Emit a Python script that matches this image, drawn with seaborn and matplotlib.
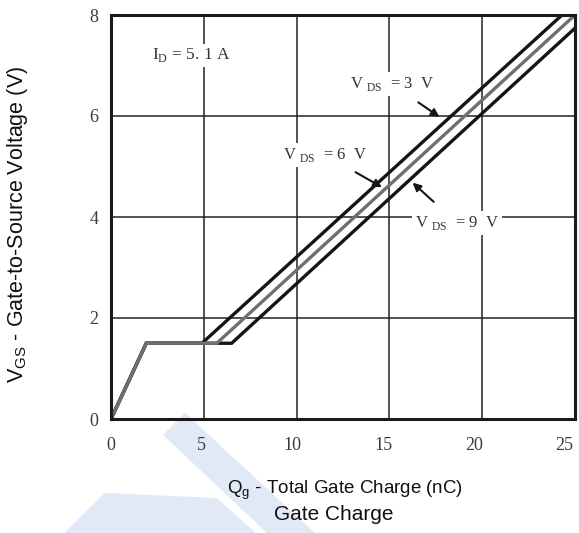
import matplotlib
matplotlib.use("Agg")
import matplotlib.pyplot as plt
import matplotlib.transforms as mtransforms
from matplotlib.patches import Polygon
import seaborn as sns
import pandas as pd

# ---- data ----
qg_vds3 = [0.0, 1.9, 4.9, 24.3]
vgs_vds3 = [0.0, 1.5, 1.5, 8.0]
qg_vds6 = [0.0, 1.9, 5.7, 25.0]
vgs_vds6 = [0.0, 1.5, 1.5, 8.0]
qg_vds9 = [0.0, 1.9, 6.5, 25.0]
vgs_vds9 = [0.0, 1.5, 1.5, 7.74]
x_ticks = [0, 5, 10, 15, 20, 25]
y_ticks = [0, 2, 4, 6, 8]

sns.set_theme(style="white")
plt.rcParams["font.family"] = ["Liberation Serif", "DejaVu Serif"]
plt.rcParams["mathtext.fontset"] = "custom"
plt.rcParams["mathtext.rm"] = "Liberation Serif"
plt.rcParams["mathtext.sf"] = "Liberation Sans"

W, H = 579, 533
fig = plt.figure(figsize=(W / 100, H / 100), dpi=100)
ax = fig.add_axes([111 / W, 1 - 419 / H, 464 / W, 404 / H])
ax.set_facecolor("none")

# faint watermark shapes behind the chart (decoration)
wm = "#e1e8f6"
for pts in ([(185, 413), (163, 435), (267, 533), (315, 533)],
            [(105, 493), (217, 498), (256, 533), (64, 533)]):
    fig.patches.append(Polygon([(x / W, 1 - y / H) for x, y in pts], closed=True,
                               transform=fig.transFigure, facecolor=wm,
                               edgecolor="none", zorder=-1))

dark = "#151515"
gray = "#6f6f6f"
for q, v, c in [(qg_vds3, vgs_vds3, dark), (qg_vds9, vgs_vds9, dark), (qg_vds6, vgs_vds6, gray)]:
    df = pd.DataFrame({"qg": q, "vgs": v})
    sns.lineplot(data=df, x="qg", y="vgs", sort=False, estimator=None, ax=ax,
                 color=c, linewidth=2.4, solid_joinstyle="miter", zorder=3)

ax.set_xlim(0, 25)
ax.set_ylim(0, 8)
ax.set_xticks(x_ticks)
ax.set_yticks(y_ticks)
ax.set_xticklabels([str(t) for t in x_ticks])
ax.set_yticklabels([str(t) for t in y_ticks])
ax.tick_params(axis="both", length=0, labelsize=13, colors="#3a3a3a")
ax.tick_params(axis="x", pad=13)
ax.tick_params(axis="y", pad=9)
# reference tick labels drift slightly left of their grid lines
for lbl, t in zip(ax.get_xticklabels(), x_ticks):
    dx = -0.42 * t * 72 / 100
    lbl.set_transform(lbl.get_transform() + mtransforms.ScaledTranslation(dx / 72, 0, fig.dpi_scale_trans))

ax.grid(True, color="#222222", linewidth=1.1, zorder=1)
for s in ax.spines.values():
    s.set_color("#1a1a1a")
    s.set_linewidth(2.2)
    s.set_zorder(5)

sans = ["Liberation Sans", "DejaVu Sans"]
ax.set_xlabel(r"Q$_{\mathsf{g}}$ - Total Gate Charge (nC)", fontsize=13.5,
              family=sans, color="#111111")
ax.xaxis.set_label_coords((345 - 111) / 464, (419 - 478) / 404)
ax.set_ylabel(r"V$_{\mathsf{GS}}$ - Gate-to-Source Voltage (V)", fontsize=15.5,
              family=sans, color="#111111")
ax.yaxis.set_label_coords((30 - 111) / 464, (419 - 224) / 404)
fig.text(334 / W, 1 - 520 / H, "Gate Charge", ha="center", va="baseline",
         fontsize=15, family=sans, color="#111111")

bbox = dict(facecolor="white", edgecolor="none", pad=2)
fs = 12
ax.text(2.2, 7.2, r"I$_{\mathrm{D}}$ = 5. 1 A", fontsize=12.5, color="#333333",
        va="center", ha="left", bbox=bbox, zorder=4)
ax.annotate(r"V $_{\mathrm{DS}}$  = 3  V", xy=(17.7, 5.98), xytext=(12.88, 6.63),
            fontsize=fs, color="#333333", va="center", ha="left", bbox=bbox, zorder=4,
            arrowprops=dict(arrowstyle="-|>", color=dark, lw=1.5, shrinkA=8, shrinkB=0,
                            mutation_scale=12))
ax.annotate(r"V $_{\mathrm{DS}}$  = 6  V", xy=(14.6, 4.59), xytext=(9.27, 5.23),
            fontsize=fs, color="#333333", va="center", ha="left", bbox=bbox, zorder=4,
            arrowprops=dict(arrowstyle="-|>", color=dark, lw=1.5, shrinkA=8, shrinkB=0,
                            mutation_scale=12))
ax.annotate(r"V $_{\mathrm{DS}}$  = 9  V", xy=(16.25, 4.68), xytext=(16.38, 3.88),
            fontsize=fs, color="#333333", va="center", ha="left", bbox=bbox, zorder=4,
            arrowprops=dict(arrowstyle="-|>", color=dark, lw=1.5, shrinkA=10, shrinkB=0,
                            mutation_scale=12))

fig.savefig("out.png", dpi=100)
